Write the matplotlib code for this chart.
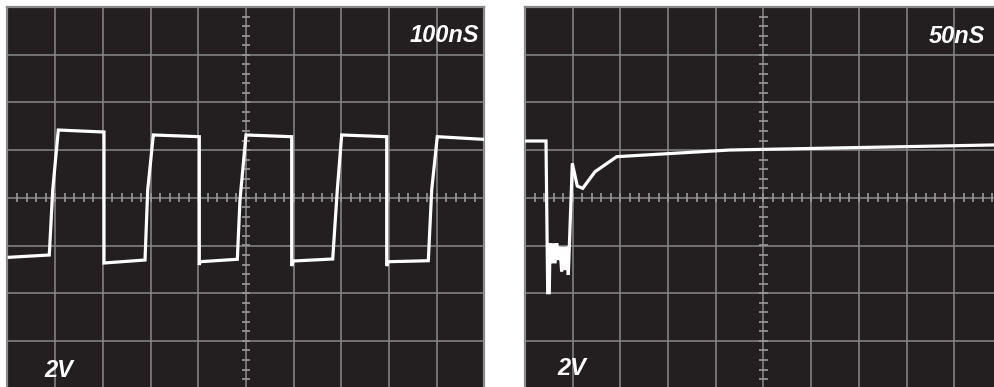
import matplotlib
matplotlib.use("Agg")
import matplotlib.pyplot as plt
import numpy as np

# ---- data (in screen divisions: x = time div, y = voltage div from center) ----
left_t = [0.038, 0.876, 0.948, 1.065, 2.023, 2.023, 2.883, 2.939, 3.057, 4.021,
          4.021, 4.036, 4.818, 4.874, 5.000, 5.958, 5.958, 5.992, 6.818, 6.914,
          7.006, 7.950, 7.950, 7.983, 8.822, 8.893, 9.010, 9.975]
left_v = [-1.247, -1.199, 0.164, 1.421, 1.379, -1.367, -1.304, 0.164, 1.317, 1.281,
          -1.409, -1.340, -1.289, -0.046, 1.317, 1.281, -1.430, -1.325, -1.283, 0.164,
          1.317, 1.281, -1.430, -1.340, -1.319, 0.164, 1.281, 1.226]

right_t = [0.036, 0.440, 0.476, 0.509, 0.524, 0.560, 0.593, 0.629, 0.665, 0.698,
           0.734, 0.769, 0.803, 0.839, 0.874, 0.908, 0.992, 1.096, 1.210, 1.468,
           1.922, 4.298, 10.0]
right_v = [1.191, 1.191, -1.990, -1.990, -0.954, -1.373, -0.954, -1.373, -0.954, -1.304,
           -1.025, -1.549, -1.025, -1.514, -1.025, -1.618, 0.723, 0.247, 0.199, 0.547,
           0.862, 1.002, 1.111]

timebase_labels = ["100nS", "50nS"]
volt_labels = ["2V", "2V"]

BG = "#231f20"
GRID = "#8a8a8a"
TICK = "#9a9a9a"
FONT = ["Liberation Sans", "DejaVu Sans"]

W, H = 995, 387
fig = plt.figure(figsize=(W / 100, H / 100), dpi=100)
fig.patch.set_facecolor("white")

DIV = 47.7
def make_axes(x0):
    top = 7.0
    ax = fig.add_axes([x0 / W, 1 - (top + 8 * DIV) / H, 10 * DIV / W, 8 * DIV / H])
    ax.set_xlim(0, 10)
    ax.set_ylim(-4, 4)
    ax.set_facecolor(BG)
    ax.set_xticks([]); ax.set_yticks([])
    for s in ax.spines.values():
        s.set_color(GRID); s.set_linewidth(1.6)
    for k in range(1, 10):
        ax.axvline(k, color=GRID, lw=1.1, zorder=1)
    for k in range(1, 8):
        ax.axhline(k - 4, color=GRID, lw=1.1, zorder=1)
    # minor ticks on center axes
    tx = np.arange(0, 10.01, 0.2)
    ax.vlines(tx, -0.094, 0.094, color=TICK, lw=1.2, zorder=1)
    ty = np.arange(-4, 4.01, 0.2)
    ax.hlines(ty, 5 - 0.094, 5 + 0.094, color=TICK, lw=1.2, zorder=1)
    return ax

axL = make_axes(7.5)
axR = make_axes(525.0)

axL.plot(left_t, left_v, color="white", lw=2.3, solid_joinstyle="miter", zorder=3)
axR.plot(right_t, right_v, color="white", lw=2.3, solid_joinstyle="miter", zorder=3)

txt = dict(color="white", fontsize=17, style="italic", weight="bold", family=FONT, zorder=4)
axL.text(9.885, 3.273, timebase_labels[0], ha="right", va="baseline", **txt)
axR.text(9.644, 3.252, timebase_labels[1], ha="right", va="baseline", **txt)
axL.text(1.084, -3.763, volt_labels[0], ha="center", va="baseline", **txt)
axR.text(0.979, -3.715, volt_labels[1], ha="center", va="baseline", **txt)

fig.savefig("out.png", dpi=100, facecolor="white")
